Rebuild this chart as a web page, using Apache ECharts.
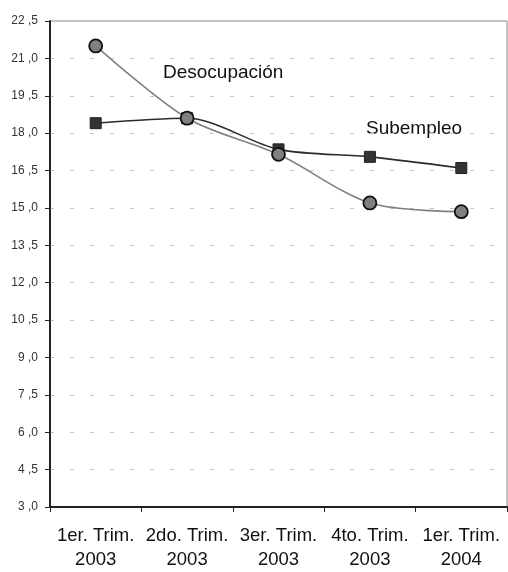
<!DOCTYPE html>
<html>
<head>
<meta charset="utf-8">
<script src="https://cdn.jsdelivr.net/npm/echarts@6/dist/echarts.min.js"></script>
<style>
  html, body { margin: 0; padding: 0; background: #fff; }
  #chart { width: 508px; height: 572px; }
</style>
</head>
<body>
<div id="chart"></div>
<script>
const categories = ['1er. Trim.\n2003', '2do. Trim.\n2003', '3er. Trim.\n2003', '4to. Trim.\n2003', '1er. Trim.\n2004']
const desocupacion = [21.5, 18.6, 17.15, 15.2, 14.85]
const subempleo = [18.4, 18.6, 17.35, 17.05, 16.6]

const chart = echarts.init(document.getElementById('chart'))

chart.setOption({
  animation: false,
  textStyle: { fontFamily: 'Liberation Sans, Arial, sans-serif' },
  grid: {
    left: 50,
    right: 1,
    top: 21,
    bottom: 63,
    show: true,
    borderColor: '#8a8a8a',
    borderWidth: 1
  },
  xAxis: {
    type: 'category',
    data: categories,
    boundaryGap: true,
    axisLine: { lineStyle: { color: '#222', width: 2 } },
    axisTick: { show: true, length: 5, lineStyle: { color: '#222', width: 1 } },
    axisLabel: {
      interval: 0,
      color: '#111',
      fontSize: 18.5,
      lineHeight: 24,
      margin: 17
    },
    splitLine: { show: false }
  },
  yAxis: {
    type: 'value',
    min: 3,
    max: 22.5,
    interval: 1.5,
    axisLine: { show: true, lineStyle: { color: '#222', width: 2 } },
    axisTick: { show: true, length: 5, lineStyle: { color: '#222' } },
    axisLabel: {
      color: '#333',
      fontSize: 12,
      margin: 12,
      formatter: function (v) { return v.toFixed(1).replace('.', ' ,') }
    },
    splitLine: {
      show: true,
      lineStyle: { color: '#c4c4c4', type: [4, 16], width: 1 }
    }
  },
  series: [{
    name: 'Subempleo',
    type: 'line',
    data: subempleo,
    smooth: 0.3,
    symbol: 'rect',
    symbolSize: 11,
    lineStyle: { color: '#2b2b2b', width: 1.6 },
    itemStyle: { color: '#333', borderColor: '#222', borderWidth: 1 },
    z: 2
  }, {
    name: 'Desocupación',
    type: 'line',
    data: desocupacion,
    smooth: 0.3,
    symbol: 'circle',
    symbolSize: 13,
    lineStyle: { color: '#808080', width: 1.6 },
    itemStyle: { color: '#808080', borderColor: '#111', borderWidth: 1.8 },
    z: 3
  }],
  graphic: [{
    type: 'text',
    left: 163,
    top: 63,
    style: { text: 'Desocupación', fontSize: 19, fill: '#111', fontFamily: 'Liberation Sans, Arial, sans-serif' }
  }, {
    type: 'text',
    left: 366,
    top: 119,
    style: { text: 'Subempleo', fontSize: 19, fill: '#111', fontFamily: 'Liberation Sans, Arial, sans-serif' }
  }]
})
</script>
</body>
</html>
